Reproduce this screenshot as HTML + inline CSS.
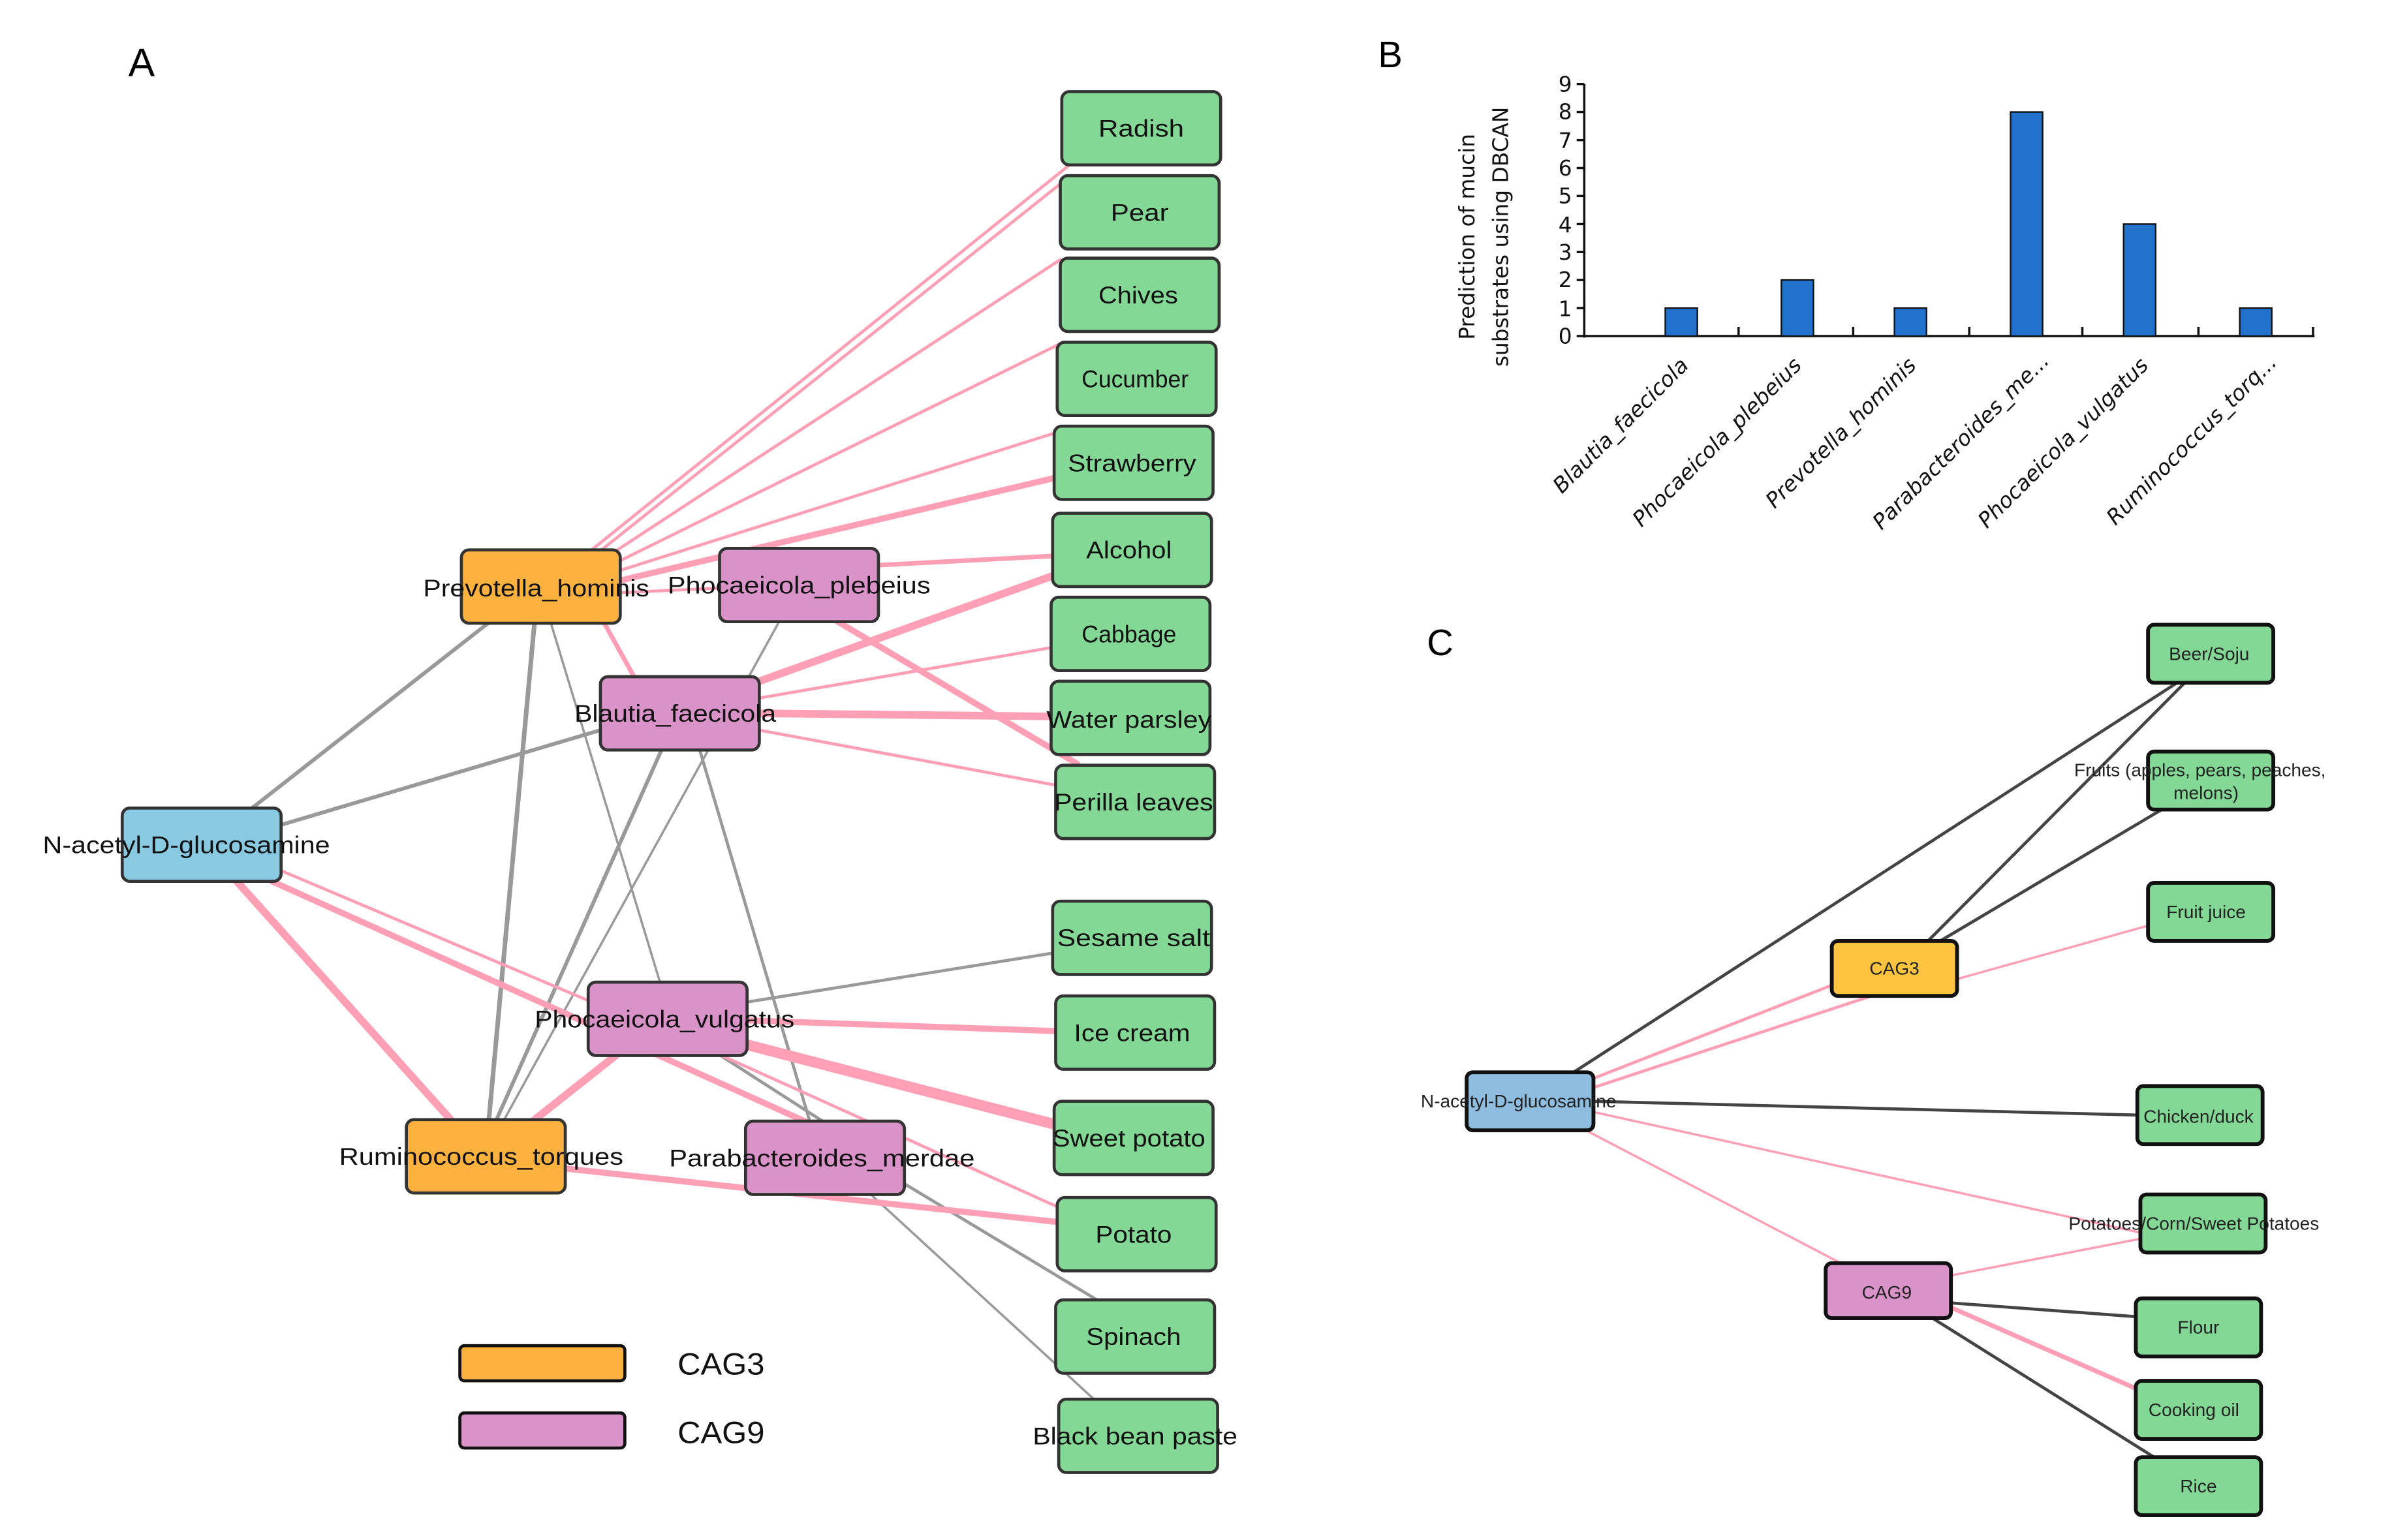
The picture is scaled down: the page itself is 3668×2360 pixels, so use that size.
<!DOCTYPE html>
<html><head><meta charset="utf-8">
<style>
html,body{margin:0;padding:0;background:#fff;}
svg{display:block;}
.n{font-family:"Liberation Sans",sans-serif;font-size:16px;fill:#111;text-anchor:middle;dominant-baseline:central;}
.c{font-family:"Liberation Sans",sans-serif;font-size:12px;fill:#222;text-anchor:middle;dominant-baseline:central;}
.b{font-family:"DejaVu Sans","Liberation Sans",sans-serif;font-size:14px;fill:#111;}
</style></head>
<body>
<svg width="3668" height="2360" viewBox="0 0 1567 1008.2" xmlns="http://www.w3.org/2000/svg">
<rect width="1570" height="1010" fill="#fff"/>
<text x="84" y="50" font-family="Liberation Sans,sans-serif" font-size="26">A</text>
<g stroke-linecap="round" fill="none">
<g stroke="#999">
<line x1="322" y1="406" x2="165" y2="529" stroke-width="2.5"/>
<line x1="350" y1="406" x2="320" y2="733" stroke-width="3"/>
<line x1="360" y1="406" x2="432" y2="643" stroke-width="1.5"/>
<line x1="510" y1="407" x2="330" y2="733" stroke-width="1.5"/>
<line x1="393" y1="478" x2="184" y2="540" stroke-width="2.5"/>
<line x1="433" y1="491" x2="325" y2="733" stroke-width="2.5"/>
<line x1="458" y1="491" x2="530" y2="734" stroke-width="2"/>
<line x1="489" y1="656" x2="689" y2="624" stroke-width="2"/>
<line x1="470" y1="690" x2="540" y2="735" stroke-width="2"/>
<line x1="592" y1="775" x2="718" y2="851" stroke-width="2"/>
<line x1="570" y1="782" x2="716" y2="916" stroke-width="1.5"/>
</g>
<g stroke="#ff9fb5">
<line x1="386" y1="361" x2="700" y2="108" stroke-width="2"/>
<line x1="390" y1="363" x2="697" y2="118" stroke-width="2"/>
<line x1="395" y1="366" x2="694" y2="170" stroke-width="2"/>
<line x1="400" y1="370" x2="694" y2="225" stroke-width="2"/>
<line x1="404" y1="374" x2="692" y2="283" stroke-width="2"/>
<line x1="406" y1="380" x2="690" y2="313" stroke-width="4"/>
<line x1="406" y1="388" x2="471" y2="385" stroke-width="2"/>
<line x1="575" y1="370" x2="689" y2="364" stroke-width="3"/>
<line x1="395" y1="407" x2="415" y2="443" stroke-width="3"/>
<line x1="545" y1="405" x2="705" y2="500" stroke-width="4"/>
<line x1="497" y1="446" x2="689" y2="377" stroke-width="5"/>
<line x1="497" y1="457" x2="688" y2="424" stroke-width="2"/>
<line x1="497" y1="467" x2="688" y2="469" stroke-width="5"/>
<line x1="497" y1="478" x2="691" y2="514" stroke-width="2"/>
<line x1="155" y1="577" x2="295" y2="733" stroke-width="5"/>
<line x1="178" y1="577" x2="540" y2="740" stroke-width="4"/>
<line x1="184" y1="570" x2="385" y2="655" stroke-width="2"/>
<line x1="489" y1="668" x2="691" y2="675" stroke-width="4"/>
<line x1="489" y1="684" x2="690" y2="736" stroke-width="7"/>
<line x1="470" y1="690" x2="692" y2="790" stroke-width="2"/>
<line x1="403" y1="691" x2="350" y2="733" stroke-width="5"/>
<line x1="370" y1="765" x2="692" y2="800" stroke-width="4"/>
</g>
</g>
<g stroke="#333" stroke-width="2">
<rect x="695" y="60" width="104" height="48" rx="5" fill="#84d896"/>
<rect x="694" y="115" width="104" height="48" rx="5" fill="#84d896"/>
<rect x="694" y="169" width="104" height="48" rx="5" fill="#84d896"/>
<rect x="692" y="224" width="104" height="48" rx="5" fill="#84d896"/>
<rect x="690" y="279" width="104" height="48" rx="5" fill="#84d896"/>
<rect x="689" y="336" width="104" height="48" rx="5" fill="#84d896"/>
<rect x="688" y="391" width="104" height="48" rx="5" fill="#84d896"/>
<rect x="688" y="446" width="104" height="48" rx="5" fill="#84d896"/>
<rect x="691" y="501" width="104" height="48" rx="5" fill="#84d896"/>
<rect x="689" y="590" width="104" height="48" rx="5" fill="#84d896"/>
<rect x="691" y="652" width="104" height="48" rx="5" fill="#84d896"/>
<rect x="690" y="721" width="104" height="48" rx="5" fill="#84d896"/>
<rect x="692" y="784" width="104" height="48" rx="5" fill="#84d896"/>
<rect x="691" y="851" width="104" height="48" rx="5" fill="#84d896"/>
<rect x="693" y="916" width="104" height="48" rx="5" fill="#84d896"/>
<rect x="302" y="360" width="104" height="48" rx="5" fill="#fdb240"/>
<rect x="471" y="359" width="104" height="48" rx="5" fill="#da93c9"/>
<rect x="393" y="443" width="104" height="48" rx="5" fill="#da93c9"/>
<rect x="80" y="529" width="104" height="48" rx="5" fill="#89c9e1"/>
<rect x="385" y="643" width="104" height="48" rx="5" fill="#da93c9"/>
<rect x="266" y="733" width="104" height="48" rx="5" fill="#fdb240"/>
<rect x="488" y="734" width="104" height="48" rx="5" fill="#da93c9"/>
<rect x="301" y="881" width="108" height="23" rx="3" fill="#fdb240" stroke="#111"/>
<rect x="301" y="925" width="108" height="23" rx="3" fill="#da93c9" stroke="#111"/>
</g>
<g class="n">
<text x="747" y="84" textLength="56" lengthAdjust="spacingAndGlyphs">Radish</text>
<text x="746" y="139" textLength="38" lengthAdjust="spacingAndGlyphs">Pear</text>
<text x="745" y="193" textLength="52" lengthAdjust="spacingAndGlyphs">Chives</text>
<text x="743" y="248" textLength="70" lengthAdjust="spacingAndGlyphs">Cucumber</text>
<text x="741" y="303" textLength="84" lengthAdjust="spacingAndGlyphs">Strawberry</text>
<text x="739" y="360" textLength="56" lengthAdjust="spacingAndGlyphs">Alcohol</text>
<text x="739" y="415" textLength="62" lengthAdjust="spacingAndGlyphs">Cabbage</text>
<text x="739" y="471" textLength="108" lengthAdjust="spacingAndGlyphs">Water parsley</text>
<text x="742" y="525" textLength="104" lengthAdjust="spacingAndGlyphs">Perilla leaves</text>
<text x="742" y="614" textLength="100" lengthAdjust="spacingAndGlyphs">Sesame salt</text>
<text x="741" y="676" textLength="76" lengthAdjust="spacingAndGlyphs">Ice cream</text>
<text x="739" y="745" textLength="100" lengthAdjust="spacingAndGlyphs">Sweet potato</text>
<text x="742" y="808" textLength="50" lengthAdjust="spacingAndGlyphs">Potato</text>
<text x="742" y="875" textLength="62" lengthAdjust="spacingAndGlyphs">Spinach</text>
<text x="743" y="940" textLength="134" lengthAdjust="spacingAndGlyphs">Black bean paste</text>
<text x="351" y="385" textLength="148" lengthAdjust="spacingAndGlyphs">Prevotella_hominis</text>
<text x="523" y="383" textLength="172" lengthAdjust="spacingAndGlyphs">Phocaeicola_plebeius</text>
<text x="442" y="467" textLength="132" lengthAdjust="spacingAndGlyphs">Blautia_faecicola</text>
<text x="122" y="553" textLength="188" lengthAdjust="spacingAndGlyphs">N-acetyl-D-glucosamine</text>
<text x="435" y="667" textLength="170" lengthAdjust="spacingAndGlyphs">Phocaeicola_vulgatus</text>
<text x="315" y="757" textLength="186" lengthAdjust="spacingAndGlyphs">Ruminococcus_torques</text>
<text x="538" y="758" textLength="200" lengthAdjust="spacingAndGlyphs">Parabacteroides_merdae</text>
<text x="472" y="893" font-size="20" textLength="57" lengthAdjust="spacingAndGlyphs">CAG3</text>
<text x="472" y="938" font-size="20" textLength="57" lengthAdjust="spacingAndGlyphs">CAG9</text>
</g>
<text x="902" y="44" font-family="Liberation Sans,sans-serif" font-size="24">B</text>
<g stroke="#111" stroke-width="1.5">
<line x1="1037" y1="55" x2="1037" y2="221"/>
<line x1="1037" y1="220" x2="1515" y2="220"/>
<line x1="1032" y1="55" x2="1037" y2="55"/><line x1="1032" y1="73.3" x2="1037" y2="73.3"/>
<line x1="1032" y1="91.7" x2="1037" y2="91.7"/><line x1="1032" y1="110" x2="1037" y2="110"/>
<line x1="1032" y1="128.3" x2="1037" y2="128.3"/><line x1="1032" y1="146.7" x2="1037" y2="146.7"/>
<line x1="1032" y1="165" x2="1037" y2="165"/><line x1="1032" y1="183.3" x2="1037" y2="183.3"/>
<line x1="1032" y1="201.7" x2="1037" y2="201.7"/><line x1="1032" y1="220" x2="1037" y2="220"/>
<line x1="1138" y1="214" x2="1138" y2="220"/><line x1="1213" y1="214" x2="1213" y2="220"/>
<line x1="1289" y1="214" x2="1289" y2="220"/><line x1="1363" y1="214" x2="1363" y2="220"/>
<line x1="1439" y1="214" x2="1439" y2="220"/><line x1="1514" y1="214" x2="1514" y2="220"/>
</g>
<g fill="#2271cc" stroke="#111" stroke-width="1">
<rect x="1090" y="201.7" width="21" height="18.3"/>
<rect x="1166" y="183.3" width="21" height="36.7"/>
<rect x="1240" y="201.7" width="21" height="18.3"/>
<rect x="1316" y="73.3" width="21" height="146.7"/>
<rect x="1390" y="146.7" width="21" height="73.3"/>
<rect x="1466" y="201.7" width="21" height="18.3"/>
</g>
<g class="b" text-anchor="end" font-size="15">
<text x="1029" y="60">9</text><text x="1029" y="78">8</text><text x="1029" y="97">7</text>
<text x="1029" y="115">6</text><text x="1029" y="133">5</text><text x="1029" y="152">4</text>
<text x="1029" y="170">3</text><text x="1029" y="188">2</text><text x="1029" y="207">1</text>
<text x="1029" y="225">0</text>
</g>
<g class="b" font-style="italic" text-anchor="end" font-size="15">
<text transform="translate(1106,240) rotate(-45)">Blautia_faecicola</text>
<text transform="translate(1180,240) rotate(-45)">Phocaeicola_plebeius</text>
<text transform="translate(1255,240) rotate(-45)">Prevotella_hominis</text>
<text transform="translate(1342,237) rotate(-45)">Parabacteroides_me...</text>
<text transform="translate(1407,240) rotate(-45)">Phocaeicola_vulgatus</text>
<text transform="translate(1491,238) rotate(-45)">Ruminococcus_torq...</text>
</g>
<g class="b" text-anchor="middle" font-size="14">
<text transform="translate(965,155) rotate(-90)">Prediction of mucin</text>
<text transform="translate(987,155) rotate(-90)">substrates using DBCAN</text>
</g>
<text x="934" y="429" font-family="Liberation Sans,sans-serif" font-size="24">C</text>
<g stroke-linecap="round" fill="none">
<g stroke="#444" stroke-width="2">
<line x1="1030" y1="702" x2="1425" y2="447"/>
<line x1="1262" y1="616" x2="1430" y2="447"/>
<line x1="1270" y1="616" x2="1415" y2="530"/>
<line x1="1043" y1="721" x2="1399" y2="730"/>
<line x1="1277" y1="853" x2="1398" y2="862"/>
<line x1="1265" y1="863" x2="1410" y2="954"/>
</g>
<g stroke="#ff9fb5">
<line x1="1043" y1="706" x2="1199" y2="645" stroke-width="2"/>
<line x1="1043" y1="712" x2="1225" y2="652" stroke-width="2"/>
<line x1="1281" y1="641" x2="1406" y2="606" stroke-width="1.5"/>
<line x1="1043" y1="728" x2="1401" y2="807" stroke-width="1.5"/>
<line x1="1038" y1="740" x2="1205" y2="827" stroke-width="1.5"/>
<line x1="1277" y1="835" x2="1401" y2="811" stroke-width="1.5"/>
<line x1="1277" y1="856" x2="1398" y2="909" stroke-width="3"/>
</g>
</g>
<g stroke="#111" stroke-width="2.5">
<rect x="1406" y="409" width="82" height="38" rx="4" fill="#84d896"/>
<rect x="1406" y="492" width="82" height="38" rx="4" fill="#84d896"/>
<rect x="1406" y="578" width="82" height="38" rx="4" fill="#84d896"/>
<rect x="1199" y="616" width="82" height="36" rx="4" fill="#fec440"/>
<rect x="960" y="702" width="83" height="38" rx="4" fill="#8ebddf"/>
<rect x="1399" y="711" width="82" height="38" rx="4" fill="#84d896"/>
<rect x="1401" y="782" width="82" height="38" rx="4" fill="#84d896"/>
<rect x="1195" y="827" width="82" height="36" rx="4" fill="#da93c9"/>
<rect x="1398" y="850" width="82" height="38" rx="4" fill="#84d896"/>
<rect x="1398" y="904" width="82" height="38" rx="4" fill="#84d896"/>
<rect x="1398" y="954" width="82" height="38" rx="4" fill="#84d896"/>
</g>
<g class="c">
<text x="1446" y="428">Beer/Soju</text>
<text x="1440" y="504">Fruits (apples, pears, peaches,</text>
<text x="1444" y="519">melons)</text>
<text x="1444" y="597">Fruit juice</text>
<text x="1240" y="634">CAG3</text>
<text x="994" y="721">N-acetyl-D-glucosamine</text>
<text x="1439" y="731">Chicken/duck</text>
<text x="1436" y="801">Potatoes/Corn/Sweet Potatoes</text>
<text x="1235" y="846">CAG9</text>
<text x="1439" y="869">Flour</text>
<text x="1436" y="923">Cooking oil</text>
<text x="1439" y="973">Rice</text>
</g>
</svg>
</body></html>
